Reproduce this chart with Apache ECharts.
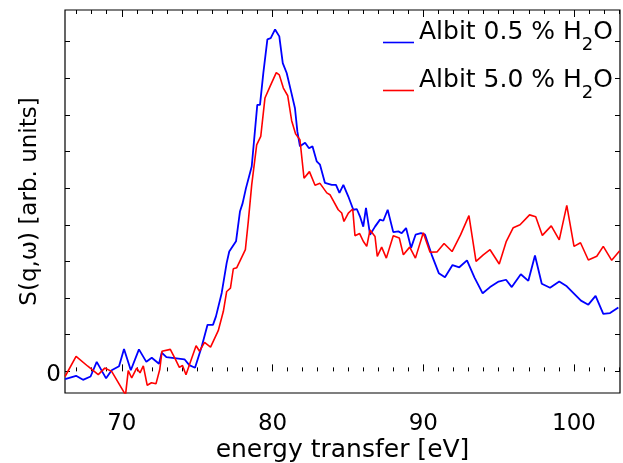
<!DOCTYPE html>
<html>
<head>
<meta charset="utf-8">
<script src="https://cdn.jsdelivr.net/npm/echarts@6/dist/echarts.min.js"></script>
<style>
html, body { margin: 0; padding: 0; background: #fff; }
#main { width: 623px; height: 463px; }
</style>
</head>
<body>
<div id="main"></div>
<script>
// Albit 0.5 % H2O
var eBlue = [66.24, 66.97, 67.43, 67.93, 68.34, 68.96, 69.33, 69.82, 70.15, 70.60, 71.14, 71.63, 71.99, 72.47, 72.65, 72.96,
    74.16, 74.48, 74.86, 75.30, 75.69, 76.05, 76.25, 76.63, 76.96, 77.13, 77.58, 77.84, 78.02, 78.24, 78.62, 78.99,
    79.17, 79.39, 79.66, 79.88, 80.17, 80.45, 80.68, 80.94, 81.23, 81.49, 81.65, 81.82, 82.16, 82.42, 82.65, 82.93,
    83.15, 83.48, 83.93, 84.21, 84.44, 84.70, 85.03, 85.36, 85.59, 85.80, 86.02, 86.20, 86.47, 86.80, 87.13, 87.35,
    87.64, 88.01, 88.35, 88.57, 88.86, 89.19, 89.49, 89.85, 90.12, 90.56, 91.03, 91.44, 91.94, 92.39, 92.90, 93.40,
    93.94, 94.43, 95.00, 95.49, 95.87, 96.47, 96.97, 97.41, 97.86, 98.41, 99.02, 99.52, 100.03, 100.46, 100.95, 101.43,
    101.94, 102.39, 102.94];
var sBlue = [-0.21, -0.12, -0.23, -0.14, 0.26, -0.19, 0.03, 0.14, 0.61, 0.03, 0.60, 0.26, 0.37, 0.21, 0.51, 0.39,
    0.33, 0.17, 0.10, 0.67, 1.27, 1.27, 1.50, 2.14, 2.96, 3.27, 3.55, 4.36, 4.59, 5.00, 5.59, 7.27,
    7.27, 8.14, 9.06, 9.09, 9.33, 9.14, 8.41, 8.14, 7.64, 7.18, 6.54, 6.14, 6.24, 6.09, 6.14, 5.73,
    5.64, 5.14, 5.09, 5.09, 4.87, 5.09, 4.77, 4.41, 4.43, 4.23, 3.95, 4.46, 3.73, 3.95, 4.14, 4.11,
    4.41, 3.80, 3.82, 3.77, 3.91, 3.37, 3.73, 3.77, 3.73, 3.18, 2.68, 2.57, 2.90, 2.84, 3.03, 2.56,
    2.13, 2.30, 2.45, 2.50, 2.30, 2.65, 2.47, 3.16, 2.39, 2.28, 2.45, 2.32, 2.11, 1.93, 1.82, 2.06,
    1.57, 1.59, 1.74];

// Albit 5.0 % H2O
var eRed = [66.24, 66.97, 67.75, 68.44, 68.87, 69.33, 70.25, 70.43, 70.66, 70.99, 71.21, 71.43, 71.69, 71.97, 72.27, 72.52,
    72.67, 73.22, 73.57, 73.82, 74.03, 74.26, 74.53, 74.93, 75.16, 75.49, 75.89, 76.40, 76.74, 76.96, 77.21, 77.40,
    77.63, 78.20, 78.39, 78.62, 78.95, 79.22, 79.50, 79.83, 80.25, 80.45, 80.72, 81.01, 81.27, 81.53, 81.82, 82.09,
    82.45, 82.82, 83.15, 83.60, 83.81, 84.36, 84.59, 84.74, 85.03, 85.32, 85.47, 85.78, 86.02, 86.25, 86.47, 86.80,
    86.95, 87.24, 87.55, 88.01, 88.41, 88.68, 89.10, 89.48, 90.00, 90.45, 90.91, 91.38, 91.91, 92.48, 93.03, 93.50,
    93.98, 94.43, 95.04, 95.51, 95.97, 96.42, 97.05, 97.46, 97.90, 98.49, 99.02, 99.52, 100.00, 100.43, 100.95, 101.51,
    101.94, 102.50, 103.03];
var sRed = [-0.14, 0.41, 0.14, -0.09, 0.09, 0.00, -0.64, 0.02, -0.18, 0.09, -0.04, 0.15, -0.38, -0.31, -0.34, 0.05,
    0.55, 0.60, 0.32, 0.11, 0.16, -0.09, 0.23, 0.70, 0.55, 0.79, 0.66, 1.11, 1.64, 2.18, 2.27, 2.80,
    2.83, 3.32, 4.08, 5.09, 6.18, 6.41, 7.46, 7.77, 8.15, 8.09, 7.73, 7.52, 6.84, 6.48, 6.32, 5.27,
    5.45, 5.08, 5.13, 4.87, 4.82, 4.41, 4.32, 4.09, 4.32, 4.43, 3.70, 3.76, 3.55, 3.41, 3.86, 3.68,
    3.14, 3.39, 3.09, 3.70, 3.64, 3.18, 3.39, 3.09, 3.78, 3.25, 3.26, 3.49, 3.27, 3.73, 4.25, 3.00,
    3.18, 3.32, 2.93, 3.55, 3.92, 4.00, 4.27, 4.22, 3.71, 3.97, 3.59, 4.53, 3.41, 3.51, 3.04, 3.14,
    3.41, 3.03, 3.29];

// 坐标轴刻度
var xMajor = [70, 80, 90, 100];
var xMinor = [67, 68, 69, 71, 72, 73, 74, 75, 76, 77, 78, 79, 81, 82, 83, 84, 85, 86, 87, 88, 89,
    91, 92, 93, 94, 95, 96, 97, 98, 99, 101, 102, 103];
var yTicks = [0, 1, 2, 3, 4, 5, 6, 7, 8, 9];
var yLabels = [0];

var xMin = 66.235, xMax = 103.05;
var yMin = -0.59, yMax = 9.86;

function zip(a, b) {
    var out = [];
    for (var i = 0; i < a.length; i++) {
        out.push([a[i], b[i]]);
    }
    return out;
}

var font = 'DejaVu Sans';

function xAxisOf(pos, ticks, len, showLabel) {
    return {
        type: 'value',
        position: pos,
        min: xMin,
        max: xMax,
        axisLine: { show: false },
        splitLine: { show: false },
        axisTick: { show: true, inside: true, length: len, customValues: ticks, lineStyle: { color: '#000', width: 1 } },
        axisLabel: showLabel ? { show: true, customValues: ticks, color: '#000', fontSize: 23, fontFamily: font, margin: 20 } : { show: false }
    };
}

//图例：下标 2
function legendOf(name, label, top) {
    return {
        data: [name],
        left: 378, top: top,
        icon: 'rect',
        itemWidth: 31, itemHeight: 1.6,
        formatter: function () { return label; },
        textStyle: {
            color: '#000', fontSize: 25, fontFamily: font, padding: [0, 0, 20, 0],
            rich: { sub: { fontSize: 18, fontFamily: font, color: '#000', padding: [26, 0, 0, 0] } }
        }
    };
}

var myChart = echarts.init(document.getElementById('main'));
var xMain = xAxisOf('bottom', xMajor, 7, true);
xMain.name = 'energy transfer [eV]';
xMain.nameLocation = 'middle';
xMain.nameGap = 45;
xMain.nameMoveOverlap = false;
xMain.nameTextStyle = { color: '#000', fontSize: 25, fontFamily: font };

myChart.setOption({
    animation: false,
    backgroundColor: '#fff',
    grid: {
        left: 65, right: 3, top: 10, bottom: 70,
        containLabel: false,
        outerBoundsMode: 'none',
        show: true, borderColor: '#000', borderWidth: 1.2
    },
    legend: [
        legendOf('Albit 0.5 % H2O', 'Albit 0.5 % H{sub|2}O', 15),
        legendOf('Albit 5.0 % H2O', 'Albit 5.0 % H{sub|2}O', 63)
    ],
    xAxis: [
        xMain,
        xAxisOf('bottom', xMinor, 4, false),
        xAxisOf('top', xMajor, 7, false),
        xAxisOf('top', xMinor, 4, false)
    ],
    yAxis: [
        {
            type: 'value',
            position: 'left',
            min: yMin,
            max: yMax,
            name: 'S(q,ω) [arb. units]',
            nameLocation: 'middle',
            nameGap: 23,
            nameMoveOverlap: false,
            nameTextStyle: { color: '#000', fontSize: 23, fontFamily: font },
            axisLine: { show: false },
            splitLine: { show: false },
            axisTick: { show: true, inside: true, length: 5, customValues: yTicks, lineStyle: { color: '#000' } },
            axisLabel: {
                show: true, customValues: yLabels, color: '#000', fontSize: 23, fontFamily: font, margin: 4,
                formatter: function (v) { return '{z|' + v + '}'; },
                rich: { z: { fontSize: 23, fontFamily: font, color: '#000', padding: [8, 0, 0, 0] } }
            }
        },
        {
            type: 'value',
            position: 'right',
            min: yMin,
            max: yMax,
            axisLine: { show: false },
            splitLine: { show: false },
            axisTick: { show: true, inside: true, length: 5, customValues: yTicks, lineStyle: { color: '#000' } },
            axisLabel: { show: false }
        }
    ],
    series: [
        {
            name: 'Albit 0.5 % H2O',
            type: 'line',
            data: zip(eBlue, sBlue),
            showSymbol: false,
            symbol: 'none',
            color: '#0000ff',
            lineStyle: { color: '#0000ff', width: 1.8 },
            clip: true
        },
        {
            name: 'Albit 5.0 % H2O',
            type: 'line',
            data: zip(eRed, sRed),
            showSymbol: false,
            symbol: 'none',
            color: '#ff0000',
            lineStyle: { color: '#ff0000', width: 1.6 },
            clip: true
        }
    ]
});
</script>
</body>
</html>
